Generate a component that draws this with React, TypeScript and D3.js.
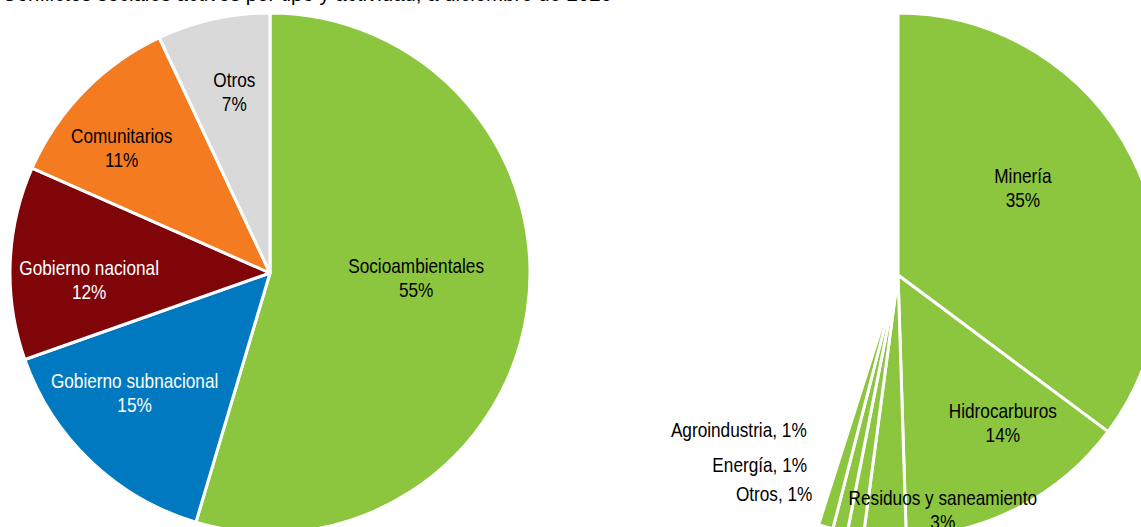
import React from "react";
import * as d3 from "d3";

// ---- data ----
const typeCategories = ["Socioambientales", "Gobierno subnacional", "Gobierno nacional", "Comunitarios", "Otros"];
const typeValues = [54.6, 15.0, 12.0, 11.4, 7.0];
const typeColors = ["#8CC63F", "#0079C1", "#7F0508", "#F47B20", "#D9D9D9"];
const typeTextColors = ["#000", "#fff", "#fff", "#000", "#000"];

const activityCategories = ["Minería", "Hidrocarburos", "Residuos y saneamiento", "Otros", "Energía", "Agroindustria"];
const activityValues = [35.2, 14.3, 2.6, 1.0, 0.9, 0.9];
const activityColor = "#8CC63F";
const activityInside = [true, true, true, false, false, false];

const titleText = "Conflictos sociales activos por tipo y actividad, a diciembre de 2020";

// ---- layout ----
const W = 1141;
const H = 527;
const leftC = { x: 270, y: 273, r: 260 };
const rightC = { x: 898, y: 275, r: 262 };
const labelK = 0.7;
const lineGap = 24;
const FONT = "'Liberation Sans', Arial, sans-serif";
const FS = 21;
const NARROW = 0.82;
// label nudges (pixels) from the centroid at labelK*r
const leftNudge: [number, number][] = [[-34, -22], [-10, -13], [1, 13], [-18, 1], [4, -4]];
const rightNudge: [number, number][] = [[-39, -6], [20, -16], [54, 51], [-43, -33], [-33, -59], [-19, -90]];

const polar = (cx: number, cy: number, a: number, r: number) => [cx + r * Math.sin(a), cy - r * Math.cos(a)];

function Label({ x, y, lines, anchor, fill }: { x: number; y: number; lines: string[]; anchor: string; fill: string }) {
  return (
    <g transform={`translate(${x},${y})`}>
      <text transform={`scale(${NARROW},1)`} textAnchor={anchor} fontFamily={FONT} fontSize={FS} fill={fill}>
        {lines.map((l, i) => (
          <tspan key={i} x={0} y={i * lineGap}>
            {l}
          </tspan>
        ))}
      </text>
    </g>
  );
}

export default function App() {
  const leftPie = d3.pie<number>().sort(null).value((d) => d).startAngle(0).endAngle(2 * Math.PI)(typeValues);
  const rightTotal = d3.sum(activityValues);
  const rightPie = d3
    .pie<number>()
    .sort(null)
    .value((d) => d)
    .startAngle(0)
    .endAngle((2 * Math.PI * rightTotal) / 100)(activityValues);

  const leftArc = d3.arc<d3.PieArcDatum<number>>().innerRadius(0).outerRadius(leftC.r);
  const rightArc = d3.arc<d3.PieArcDatum<number>>().innerRadius(0).outerRadius(rightC.r);

  return (
    <div style={{ position: "absolute", left: 0, top: 0, width: W, height: H, overflow: "hidden", background: "#fff" }}>
      <svg width={W} height={H} style={{ display: "block" }}>
        <rect width={W} height={H} fill="#fff" />
        <text
          x={2}
          y={0.5}
          fontFamily={FONT}
          fontSize={20}
          fill="#000"
          textLength={610}
          lengthAdjust="spacingAndGlyphs"
        >
          {titleText}
        </text>
        <g transform={`translate(${leftC.x},${leftC.y})`}>
          {leftPie.map((p, i) => (
            <path key={i} d={leftArc(p) || ""} fill={typeColors[i]} stroke="#fff" strokeWidth={3} strokeLinejoin="round" />
          ))}
        </g>
        {leftPie.map((p, i) => {
          const mid = (p.startAngle + p.endAngle) / 2;
          const [x0, y0] = polar(leftC.x, leftC.y, mid, leftC.r * labelK);
          return (
            <Label
              key={i}
              x={x0 + leftNudge[i][0]}
              y={y0 + leftNudge[i][1] - 4}
              lines={[typeCategories[i], `${Math.round(typeValues[i])}%`]}
              anchor="middle"
              fill={typeTextColors[i]}
            />
          );
        })}
        <g transform={`translate(${rightC.x},${rightC.y})`}>
          {rightPie.map((p, i) => (
            <path key={i} d={rightArc(p) || ""} fill={activityColor} stroke="#fff" strokeWidth={3} strokeLinejoin="round" />
          ))}
        </g>
        {rightPie.map((p, i) => {
          const mid = (p.startAngle + p.endAngle) / 2;
          if (activityInside[i]) {
            const [x0, y0] = polar(rightC.x, rightC.y, mid, rightC.r * labelK);
            return (
              <Label
                key={i}
                x={x0 + rightNudge[i][0]}
                y={y0 + rightNudge[i][1] - 4}
                lines={[activityCategories[i], `${Math.round(activityValues[i])}%`]}
                anchor="middle"
                fill="#000"
              />
            );
          }
          const [x0, y0] = polar(rightC.x, rightC.y, mid, rightC.r);
          return (
            <Label
              key={i}
              x={x0 + rightNudge[i][0]}
              y={y0 + rightNudge[i][1]}
              lines={[`${activityCategories[i]}, ${Math.round(activityValues[i])}%`]}
              anchor="end"
              fill="#000"
            />
          );
        })}
      </svg>
    </div>
  );
}
